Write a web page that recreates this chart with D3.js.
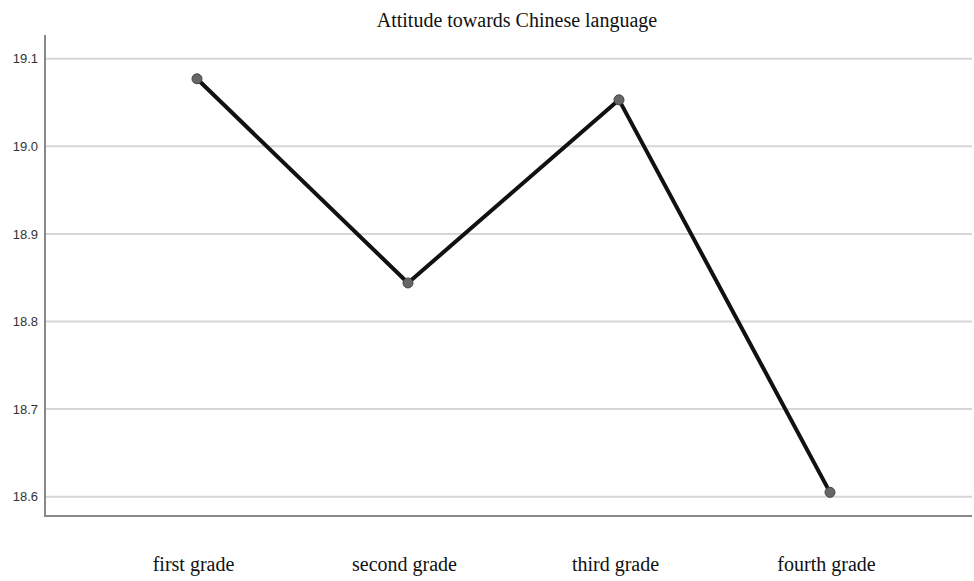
<!DOCTYPE html>
<html><head><meta charset="utf-8">
<script src="https://cdn.jsdelivr.net/npm/d3@7"></script>
<style>body{margin:0;background:#fff}</style>
</head><body>
<svg id="c" width="974" height="581"></svg>
<script>
const categories = ["first grade", "second grade", "third grade", "fourth grade"];
const values = [19.077, 18.844, 19.053, 18.605];
const yTicks = [18.6, 18.7, 18.8, 18.9, 19.0, 19.1];
const title = "Attitude towards Chinese language";

(function () {
const svg = d3.select("#c");
const mL = 45, mR = 972, mT = 35, mB = 516;
const x = d3.scalePoint().domain(categories).range([197, 830]);
const y = d3.scaleLinear().domain([18.578, 19.127]).range([mB, mT]);

// gridlines
svg.append("g").selectAll("line").data(yTicks).join("line")
  .attr("x1", mL).attr("x2", mR)
  .attr("y1", d => y(d)).attr("y2", d => y(d))
  .attr("stroke", "#d6d6d6").attr("stroke-width", 2);

// y axis
const ya = svg.append("g").attr("transform", `translate(${mL},0)`)
  .call(d3.axisLeft(y).tickValues(yTicks).tickFormat(d3.format(".1f")).tickSize(0).tickPadding(7));
ya.select(".domain").remove();
ya.selectAll("text").attr("font-family", "Liberation Sans, Arial, sans-serif").attr("font-size", 13).attr("fill", "#333");

// x axis
const xa = svg.append("g").attr("transform", `translate(0,${mB})`)
  .call(d3.axisBottom(x).tickSize(0).tickPadding(41));
xa.select(".domain").remove();
xa.selectAll("text").attr("font-family", "Liberation Serif, Times New Roman, serif").attr("font-size", 20).attr("fill", "#111").attr("dx", -4);

// axis lines
svg.append("line").attr("x1", mL).attr("x2", mL).attr("y1", mT).attr("y2", mB + 1)
  .attr("stroke", "#888").attr("stroke-width", 2);
svg.append("line").attr("x1", mL).attr("x2", mR).attr("y1", mB).attr("y2", mB)
  .attr("stroke", "#888").attr("stroke-width", 2);

// line
const pts = categories.map((c, i) => [x(c), y(values[i])]);
svg.append("path").attr("d", d3.line()(pts)).attr("fill", "none")
  .attr("stroke", "#111").attr("stroke-width", 4).attr("stroke-linejoin", "round");

svg.append("g").selectAll("circle").data(pts).join("circle")
  .attr("cx", d => d[0]).attr("cy", d => d[1]).attr("r", 5)
  .attr("fill", "#666").attr("stroke", "#444").attr("stroke-width", 1);

svg.append("text").attr("x", 517).attr("y", 27).attr("text-anchor", "middle")
  .attr("font-family", "Liberation Serif, Times New Roman, serif").attr("font-size", 20).attr("fill", "#111")
  .text(title);
})();
</script>
</body></html>
